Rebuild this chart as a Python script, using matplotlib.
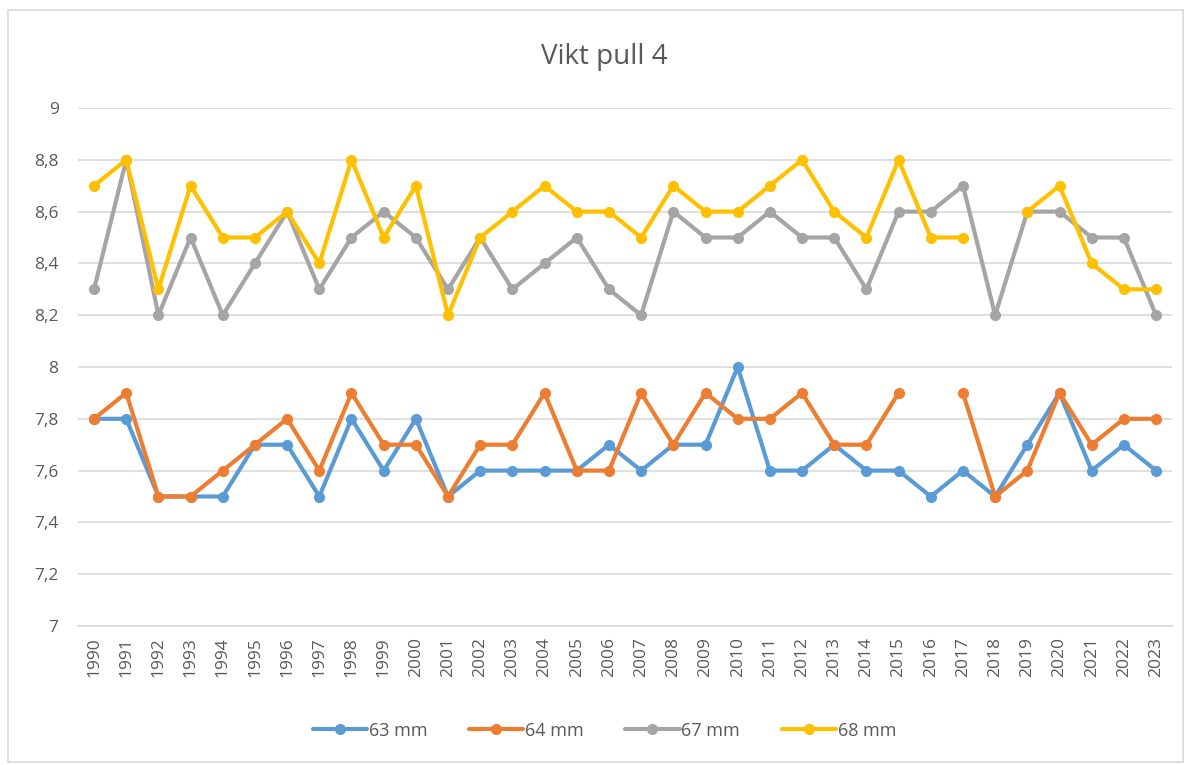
import numpy as np
import matplotlib.pyplot as plt
from matplotlib.patches import Rectangle
from matplotlib.ticker import FuncFormatter

years = [str(y) for y in range(1990, 2024)]

mm63 = [7.8, 7.8, 7.5, 7.5, 7.5, 7.7, 7.7, 7.5, 7.8, 7.6, 7.8, 7.5, 7.6, 7.6, 7.6, 7.6, 7.7,
        7.6, 7.7, 7.7, 8.0, 7.6, 7.6, 7.7, 7.6, 7.6, 7.5, 7.6, 7.5, 7.7, 7.9, 7.6, 7.7, 7.6]
mm64 = [7.8, 7.9, 7.5, 7.5, 7.6, 7.7, 7.8, 7.6, 7.9, 7.7, 7.7, 7.5, 7.7, 7.7, 7.9, 7.6, 7.6,
        7.9, 7.7, 7.9, 7.8, 7.8, 7.9, 7.7, 7.7, 7.9, np.nan, 7.9, 7.5, 7.6, 7.9, 7.7, 7.8, 7.8]
mm67 = [8.3, 8.8, 8.2, 8.5, 8.2, 8.4, 8.6, 8.3, 8.5, 8.6, 8.5, 8.3, 8.5, 8.3, 8.4, 8.5, 8.3,
        8.2, 8.6, 8.5, 8.5, 8.6, 8.5, 8.5, 8.3, 8.6, 8.6, 8.7, 8.2, 8.6, 8.6, 8.5, 8.5, 8.2]
mm68 = [8.7, 8.8, 8.3, 8.7, 8.5, 8.5, 8.6, 8.4, 8.8, 8.5, 8.7, 8.2, 8.5, 8.6, 8.7, 8.6, 8.6,
        8.5, 8.7, 8.6, 8.6, 8.7, 8.8, 8.6, 8.5, 8.8, 8.5, 8.5, np.nan, 8.6, 8.7, 8.4, 8.3, 8.3]

series = [("63 mm", mm63, "#5B9BD5"),
          ("64 mm", mm64, "#ED7D31"),
          ("67 mm", mm67, "#A5A5A5"),
          ("68 mm", mm68, "#FFC000")]

plt.rcParams['font.family'] = ['Open Sans', 'DejaVu Sans']

fig = plt.figure(figsize=(11.9, 7.65), dpi=100)
ax = fig.add_axes([0.0655, 0.1817, 0.9195, 0.6771])

x = np.arange(len(years))
for label, vals, col in series:
    ax.plot(x, vals, color=col, linewidth=3.0, marker='o', markersize=7,
            label=label, solid_capstyle='round', zorder=3)

ax.set_xlim(-0.5, len(years) - 0.5)
ax.set_ylim(7, 9)
ax.set_yticks(np.arange(7, 9.01, 0.2))
ax.yaxis.set_major_formatter(FuncFormatter(lambda v, p: f"{v:.1f}".replace('.', ',').replace(',0', '')))
ax.set_xticks(x)
ax.set_xticklabels(years, rotation=90)
ax.tick_params(axis='both', length=0, colors='#595959', labelsize=12.5)
ax.tick_params(axis='x', pad=8)
ax.tick_params(axis='y', pad=14)
ax.grid(axis='y', color='#D9D9D9', linewidth=1.2)
ax.set_axisbelow(True)
for s in ['top', 'right', 'left']:
    ax.spines[s].set_visible(False)
ax.spines['bottom'].set_color('#D9D9D9')
ax.spines['bottom'].set_linewidth(1.2)

fig.text(0.508, 0.925, "Vikt pull 4", ha='center', va='center', fontsize=20, color='#595959')

ax.legend(loc='center', ncol=4, frameon=False, fontsize=13, handlelength=3.0,
          columnspacing=2.3, handletextpad=0.1, labelcolor='#595959',
          bbox_to_anchor=(0.508, 0.045), bbox_transform=fig.transFigure)

fig.patches.append(Rectangle((8 / 1190, 1 - 762 / 765), 1175 / 1190, 752 / 765,
                             transform=fig.transFigure, fill=False,
                             edgecolor='#D9D9D9', linewidth=1.2))

fig.savefig("out.png", dpi=100)
